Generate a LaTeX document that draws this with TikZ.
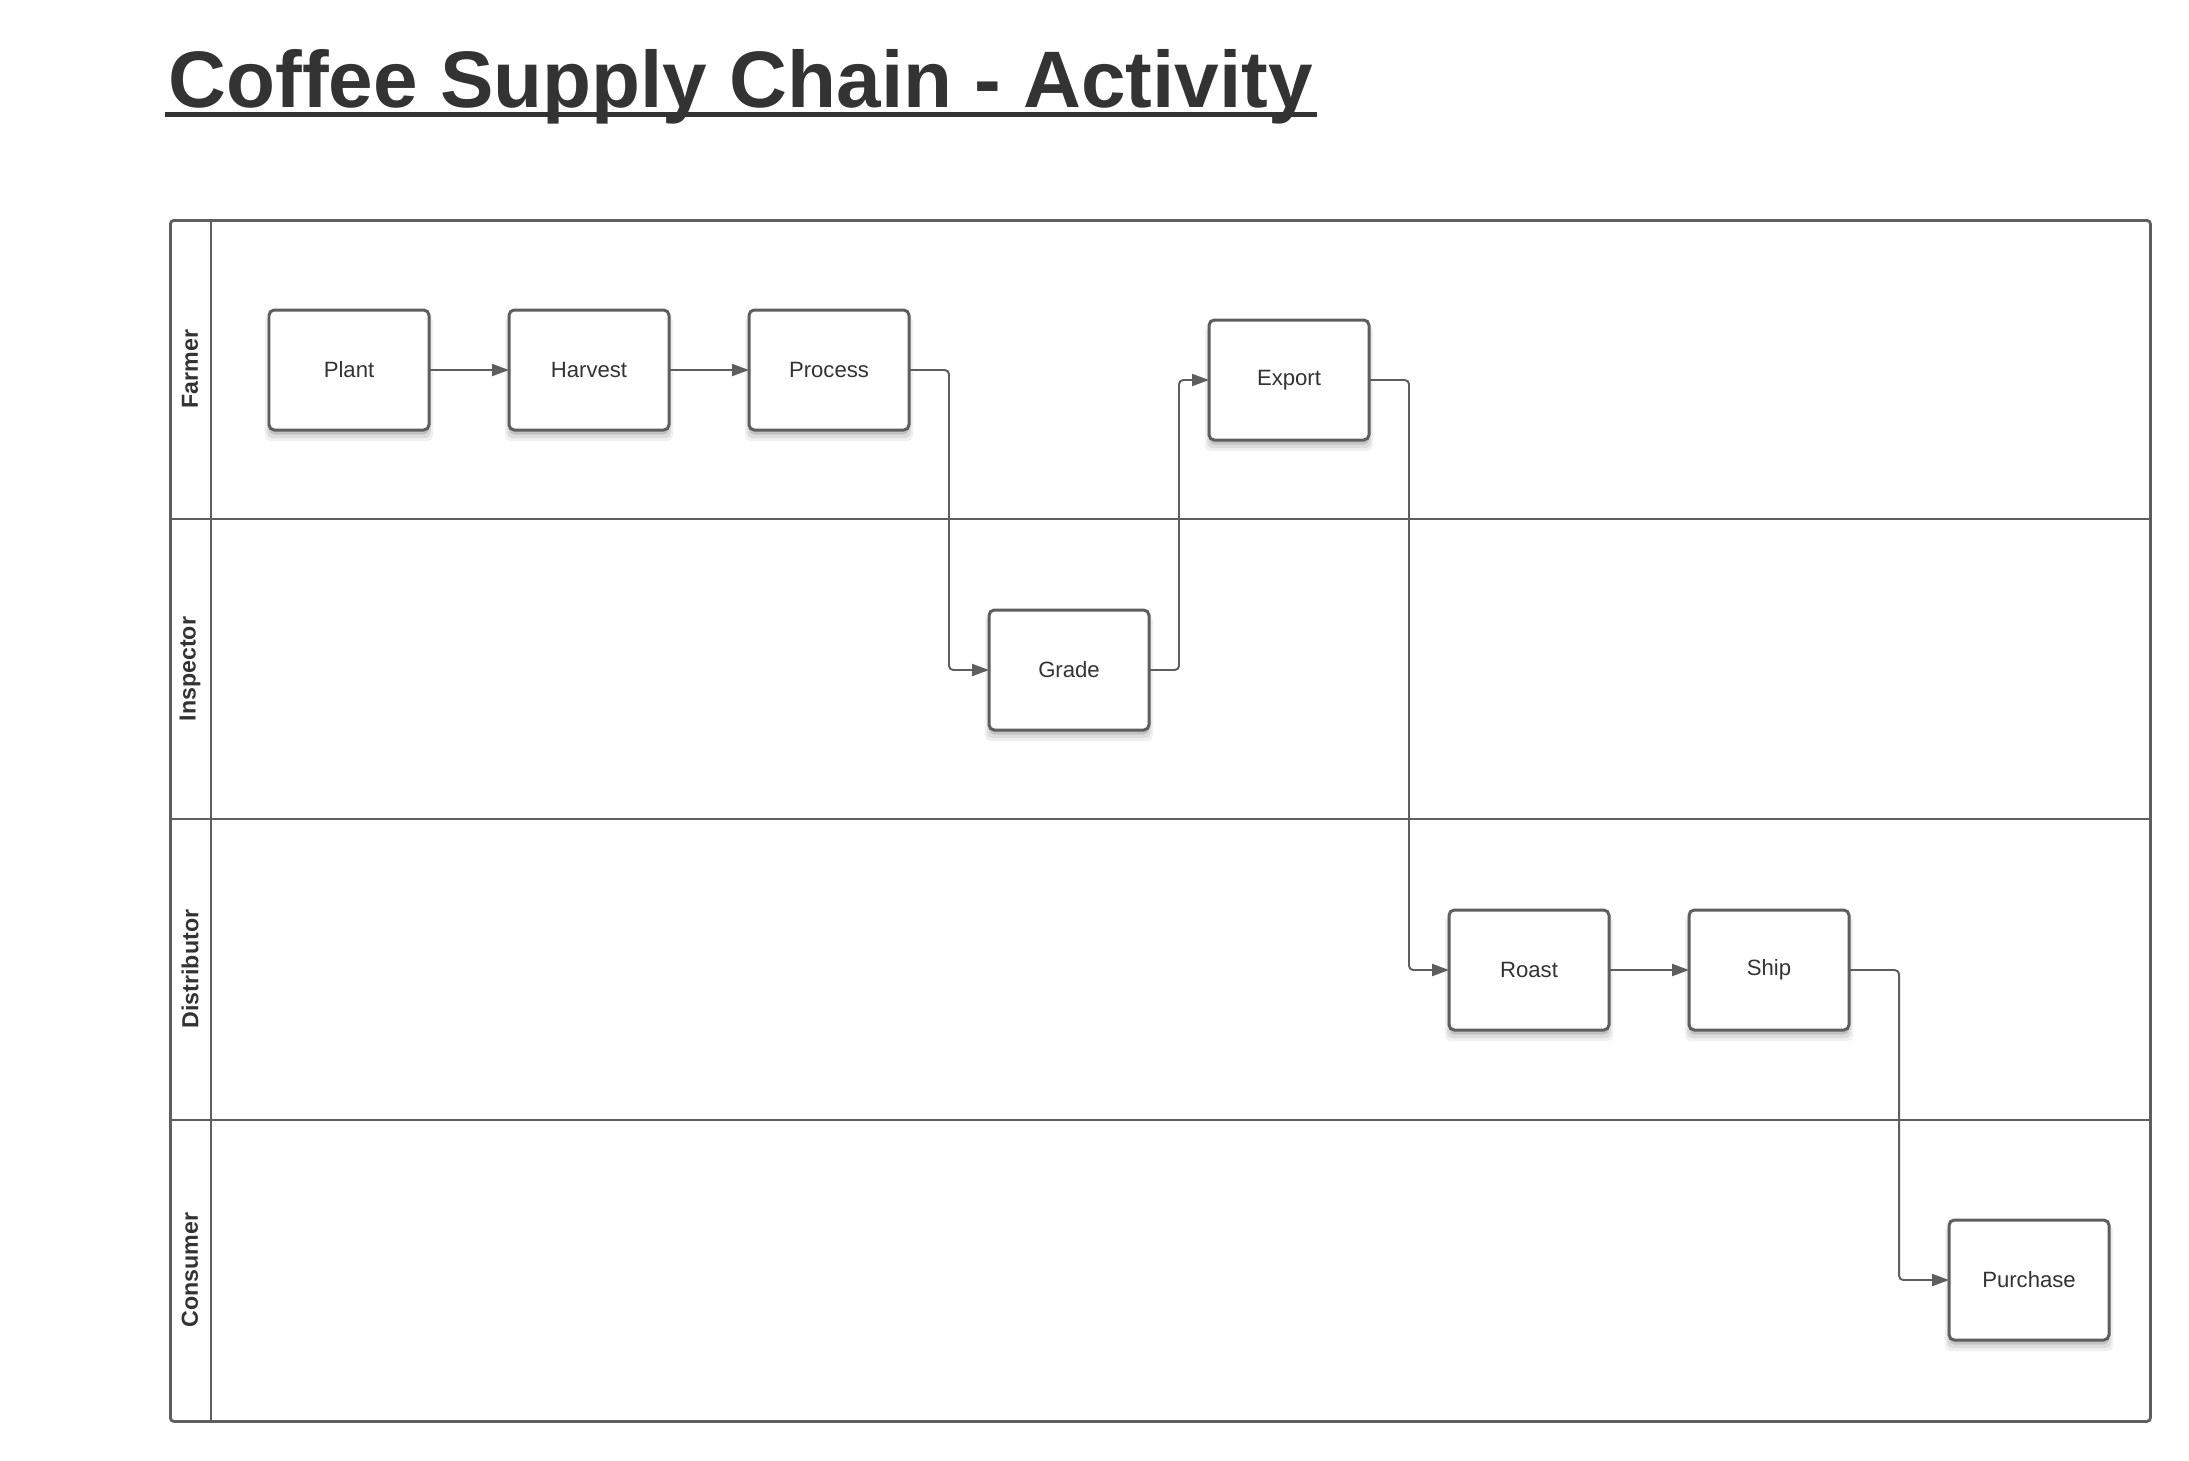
\documentclass[tikz,border=0pt]{standalone}
\usepackage{fontspec}
\setmainfont{Liberation Sans}
\usepackage{tikz}
\usetikzlibrary{shapes, arrows.meta, positioning, calc, shadows}
\definecolor{linegray}{HTML}{5E5E5E}
\definecolor{textgray}{HTML}{333333}
\tikzset{
	task/.style={rectangle, draw=linegray, fill=white, line width=0.85pt, outer sep=0pt, rounded corners=1.5pt, minimum width=1.6cm, minimum height=1.2cm, font=\fontsize{6.3}{7.5}\selectfont, text=textgray,
		drop shadow={shadow xshift=0pt, shadow yshift=-2.2pt, shadow scale=1.05, fill=black, opacity=0.06},
		drop shadow={shadow xshift=0pt, shadow yshift=-1.8pt, shadow scale=1.025, fill=black, opacity=0.08},
		drop shadow={shadow xshift=0pt, shadow yshift=-1.3pt, fill=black, opacity=0.12}},
	pool/.style={rectangle, draw=linegray, line width=0.8pt, rounded corners=1pt, minimum width=19.8cm, minimum height=12.01cm, inner sep=0pt},
	pool_line/.style={draw=linegray, line width=0.8pt},
	lane_label/.style={rotate=90, font=\bfseries\fontsize{6.6}{8}\selectfont, text=textgray},
	flow/.style={draw=linegray, line width=0.55pt, rounded corners=1.2pt, -{Triangle[length=4.8pt, width=3.4pt]}},
	title_rule/.style={draw=textgray, line width=1.6pt}
}

\begin{document}
\begin{tikzpicture}[node distance=0.8cm, >=latex]
	\useasboundingbox (0,0) rectangle (21.89,-14.60);
	% title
	\node[anchor=base west, inner sep=0pt, font=\bfseries\fontsize{22.8}{28}\selectfont, text=textgray] (title) at (1.68,-1.07) {Coffee Supply Chain - Activity};
	\draw[title_rule] ($(title.base west)+(-0.03,-0.075)$) -- ($(title.base east)+(0.03,-0.075)$);
	% swimlanes
	\node[pool, anchor=north west] (pool) at (1.69,-2.19) {};
	\draw[pool_line] ($(pool.north west)+(0.42,0)$) -- ($(pool.south west)+(0.42,0)$);
	\draw[pool_line] ($(pool.north west)+(0,-3)$) -- ($(pool.north east)+(0,-3)$);
	\draw[pool_line] ($(pool.north west)+(0,-6)$) -- ($(pool.north east)+(0,-6)$);
	\draw[pool_line] ($(pool.north west)+(0,-9.01)$) -- ($(pool.north east)+(0,-9.01)$);
	\node[lane_label] (farmer) at (1.90,-3.69) {Farmer};
	\node[lane_label] (inspector) at (1.90,-6.69) {Inspector};
	\node[lane_label] (distributor) at (1.90,-9.69) {Distributor};
	\node[lane_label] (consumer) at (1.90,-12.70) {Consumer};
	% activities
	\node[task] (plant) at (3.49,-3.70) {Plant};
	\node[task, right=0.8cm of plant] (harvest) {Harvest};
	\node[task, right=0.8cm of harvest] (process) {Process};
	\node[task, right=0.8cm of process, yshift=-3cm] (grade) {Grade};
	\node[task, right=0.6cm of grade, yshift=2.9cm] (export) {Export};
	\node[task, right=0.8cm of export, yshift=-5.9cm] (roast) {Roast};
	\node[task, right=0.8cm of roast] (ship) {Ship};
	\node[task, right=1.0cm of ship, yshift=-3.1cm] (purchase) {Purchase};
	% flows
	\draw[flow] (plant) -- (harvest);
	\draw[flow] (harvest) -- (process);
	\draw[flow] (process.east) -| ($(process.east)!0.5!(grade.west)$) |- (grade.west);
	\draw[flow] (grade.east) -| ($(grade.east)!0.5!(export.west)$) |- (export.west);
	\draw[flow] (export.east) -| ($(export.east)!0.5!(roast.west)$) |- (roast.west);
	\draw[flow] (roast) -- (ship);
	\draw[flow] (ship.east) -| ($(ship.east)!0.5!(purchase.west)$) |- (purchase.west);
\end{tikzpicture}
\end{document}
